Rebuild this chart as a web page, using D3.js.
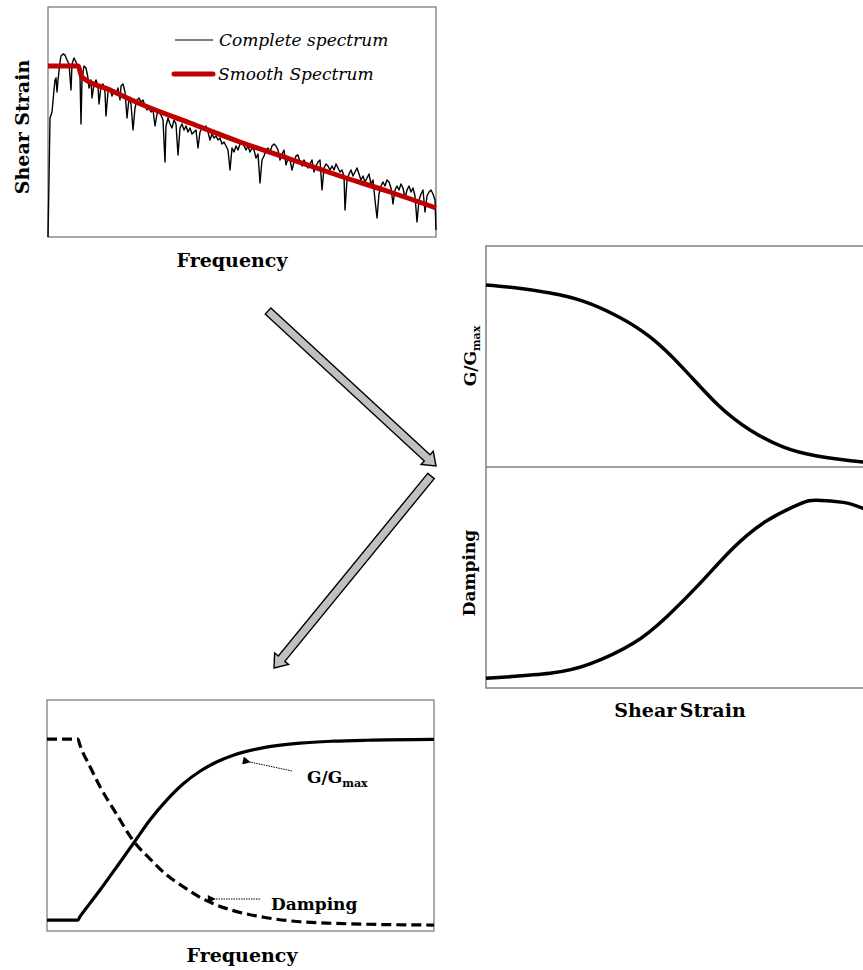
<!DOCTYPE html>
<html><head><meta charset="utf-8">
<script src="https://cdn.jsdelivr.net/npm/d3@7/dist/d3.min.js"></script>
<style>body{margin:0;background:#fff}svg{display:block}text{font-family:"DejaVu Serif",serif}</style>
</head><body><div id="c"></div>
<script>
// ---------------- DATA ----------------
// Panel 1: input spectrum (frequency in arbitrary units 0–194, shear strain arbitrary 0–115)
const spectrumFreq = [0,0.5,1,2,3,3.5,4,4.5,5,6,6.5,7.5,8.5,9.5,10.5,11.5,12,13,14,15,16,16.5,17,18,19,20,20.5,21.5,22,23,24,25,25.5,26.5,27.5,28.5,29,30,31,32,33,34,35,36,36.5,37.5,38.5,39.5,40.5,41.5,42.5,43.5,44.5,45.5,46.5,47.5,48.5,49.5,50.5,51.5,52.5,53.5,54.5,55.5,56.5,57.5,58.5,59,60,61,62,63,64,65,66,67,68,69,70,71,72,73,74,75,76,77,78,79,80,81,82,83,84,85,86,87,88,89,90,91,92,93,94,95,96,97,98,99,100,101,102,103,104,105,106,107,108,109,110,111,112,113,114,115,116,117,118,119,120,121,122,123,124,125,126,127,128,129,130,131,132,133,134,135,136,137,138,139,140,141,142,143,144,145,146,147,148,148.5,149.5,150.5,151.5,152.5,153.5,154.5,155.5,156.5,157.5,158.5,159.5,160.5,161.5,162.5,163.5,164.5,165.5,166.5,167.5,168.5,169.5,170.5,171.5,172.5,173.5,174.5,175.5,176.5,177.5,178.5,179.5,180.5,181.5,182.5,183.5,184.5,185.5,186.5,187.5,188.5,189.5,190.5,191.5,192.5,193.5,194];
const spectrumStrain = [0,28.5,59.5,62.5,73.5,78.5,79.5,72.5,78.5,87.5,90.5,91.5,91,88.5,86.5,73.5,86.5,89.5,87.5,84.5,81,56.5,78.5,85.5,84.5,79.5,74.5,78.5,69.5,76.5,78.5,75.5,66.5,75.5,76.5,72.5,60.5,72.5,74.5,70.5,73.5,71.5,74.5,68.5,75.5,76.5,72.5,59.5,69.5,66.5,53.5,64.5,68.5,69.5,67.5,68.5,65.5,63.5,64.5,62.5,63.5,55.5,61.5,62.5,61,58.5,37.5,55.5,59.5,56.5,54.5,58.5,56.5,41,54.5,56.5,53.5,55.5,52.5,54.5,51.5,52.5,53.5,44.5,52.5,54.5,53.5,55.5,52.5,48.5,51.5,49.5,50.5,48.5,49.5,46.5,47.5,45.5,43.5,33.5,44.5,42.5,45.5,43.5,46.5,47.5,45.5,43.5,45.5,42.5,44.5,43.5,39.5,41.5,27,38.5,40.5,43.5,44.5,42.5,45.5,46.5,45.5,43.5,38.5,41.5,43.5,36,39.5,38.5,33.5,37.5,40.5,41,37.5,35.5,38.5,36.5,34.5,36.5,38.5,32.5,35.5,37.5,38.5,23.5,34.5,36.5,35.5,33.5,35.5,33.5,36.5,34.5,32.5,33.5,30.5,13.5,28.5,31.5,33.5,30.5,32.5,34.5,31.5,28.5,30.5,27.5,29.5,31.5,26.5,28.5,18.5,9.5,21.5,25.5,27.5,25.5,28.5,27.5,24.5,16.5,23.5,25.5,23.5,26.5,24.5,19.5,23.5,25.5,22.5,24.5,20.5,7.5,18.5,21.5,23.5,12.5,20.5,22.5,23.5,21.5,18.5,3.5];
const smoothFreq   = [0,15,17,31,47.5,71,96,121,146,171,194];
const smoothStrain = [85.5,85.5,80,73.5,66,57,47.5,39,30.5,22.5,14.5];
const legendLabels = ["Complete spectrum","Smooth Spectrum"];

// Panels 2 & 3: modulus reduction and damping vs shear strain (normalised strain 0–100)
const gStrain  = [0,7.75,16,24.25,32.75,41,49.25,57.75,66,74.25,82.75,94.25,100];
const gRatio   = [0.988,0.972,0.945,0.901,0.82,0.706,0.537,0.342,0.201,0.109,0.06,0.027,0.02];
const dStrain  = [0,16,26,36.8,45.2,53.5,61.8,70.2,78.5,82.7,89.3,94.25,100];
const dampPct  = [1.31,1.99,3.26,6.06,9.68,14.2,19.0,22.7,25.0,25.5,25.2,24.4,23.2];

// Panel 4: strain-compatible properties vs frequency (normalised 0–1.2)
const outFreq = [0,15.5,16.5,21.6,26.6,35,43.3,51.6,60,68.3,76.7,85,93.4,110,126.8,143.5,160.2,194];
const outG    = [0.057,0.057,0.074,0.145,0.213,0.334,0.455,0.577,0.68,0.765,0.83,0.878,0.913,0.955,0.976,0.986,0.991,0.995];
const outD    = [0.997,0.997,0.966,0.853,0.749,0.605,0.468,0.375,0.291,0.23,0.175,0.135,0.106,0.069,0.048,0.04,0.035,0.031];

// ---------------- DRAW ----------------
const W = 863, H = 970;
const svg = d3.select("#c").append("svg").attr("width", W).attr("height", H);
svg.append("rect").attr("width", W).attr("height", H).attr("fill", "#fff");
const defs = svg.append("defs");
defs.append("marker").attr("id","ah").attr("viewBox","0 0 10 10").attr("refX",1).attr("refY",5)
  .attr("markerWidth",10).attr("markerHeight",8).attr("markerUnits","userSpaceOnUse").attr("orient","auto-start-reverse")
  .append("path").attr("d","M10,0 L0,5 L10,10 Z").attr("fill","#000");

const zip = (a,b) => a.map((v,i)=>[v,b[i]]);

// ---- Panel 1 ----
const x1 = d3.scaleLinear().domain([0,194]).range([48,436]);
const y1 = d3.scaleLinear().domain([0,115]).range([237,7]);
const p1 = svg.append("g");
p1.append("rect").attr("x",x1(0)).attr("y",y1(115)).attr("width",x1(194)-x1(0)).attr("height",y1(0)-y1(115))
  .attr("fill","none").attr("stroke","#6f6f6f").attr("stroke-width",1.2);
p1.append("path").datum(zip(spectrumFreq,spectrumStrain))
  .attr("d", d3.line().x(d=>x1(d[0])).y(d=>y1(d[1])))
  .attr("fill","none").attr("stroke","#000").attr("stroke-width",1.4).attr("stroke-linejoin","round");
p1.append("path").datum(zip(smoothFreq,smoothStrain))
  .attr("d", d3.line().x(d=>x1(d[0])).y(d=>y1(d[1])).curve(d3.curveMonotoneX))
  .attr("fill","none").attr("stroke","#c00000").attr("stroke-width",5);
// legend
const lg = p1.append("g");
lg.append("line").attr("x1",175).attr("x2",213).attr("y1",40).attr("y2",40).attr("stroke","#000").attr("stroke-width",1.2);
lg.append("text").attr("x",219).attr("y",46).attr("font-size",17).attr("font-style","italic").text(legendLabels[0]);
lg.append("line").attr("x1",174).attr("x2",213).attr("y1",74).attr("y2",74).attr("stroke","#c00000").attr("stroke-width",5).attr("stroke-linecap","round");
lg.append("text").attr("x",218).attr("y",80).attr("font-size",17).attr("font-style","italic").text(legendLabels[1]);
p1.append("text").attr("x",232).attr("y",267).attr("text-anchor","middle").attr("font-size",19).attr("font-weight","bold").text("Frequency");
p1.append("text").attr("transform","translate(29,127) rotate(-90)").attr("text-anchor","middle").attr("font-size",19).attr("font-weight","bold").text("Shear Strain");

// ---- Panels 2/3 ----
const x2 = d3.scaleLinear().domain([0,100]).range([486,886]);
const yG = d3.scaleLinear().domain([0,1.2]).range([467,246]);
const yD = d3.scaleLinear().domain([0,30]).range([688,467]);
const p2 = svg.append("g");
p2.append("rect").attr("x",x2(0)).attr("y",yG(1.2)).attr("width",x2(100)-x2(0)).attr("height",yD(0)-yG(1.2))
  .attr("fill","none").attr("stroke","#808080").attr("stroke-width",1.5);
p2.append("line").attr("x1",x2(0)).attr("x2",x2(100)).attr("y1",yG(0)).attr("y2",yG(0)).attr("stroke","#808080").attr("stroke-width",1.5);
p2.append("path").datum(zip(gStrain,gRatio))
  .attr("d", d3.line().x(d=>x2(d[0])).y(d=>yG(d[1])).curve(d3.curveNatural))
  .attr("fill","none").attr("stroke","#000").attr("stroke-width",3.5);
p2.append("path").datum(zip(dStrain,dampPct))
  .attr("d", d3.line().x(d=>x2(d[0])).y(d=>yD(d[1])).curve(d3.curveNatural))
  .attr("fill","none").attr("stroke","#000").attr("stroke-width",3.5);
const gl = p2.append("text").attr("transform","translate(476,356) rotate(-90)").attr("text-anchor","middle").attr("font-size",17).attr("font-weight","bold");
gl.append("tspan").text("G/G");
gl.append("tspan").attr("font-size",11).attr("dy",4).text("max");
p2.append("text").attr("transform","translate(475,573) rotate(-90)").attr("text-anchor","middle").attr("font-size",17).attr("font-weight","bold").text("Damping");
p2.append("text").attr("x",680).attr("y",717).attr("text-anchor","middle").attr("font-size",19).attr("font-weight","bold").attr("word-spacing",-3).text("Shear Strain");

// ---- Panel 4 ----
const x4 = d3.scaleLinear().domain([0,194]).range([47,434]);
const y4 = d3.scaleLinear().domain([0,1.2]).range([931,700]);
const p4 = svg.append("g");
p4.append("rect").attr("x",x4(0)).attr("y",y4(1.2)).attr("width",x4(194)-x4(0)).attr("height",y4(0)-y4(1.2))
  .attr("fill","none").attr("stroke","#808080").attr("stroke-width",1.3);
p4.append("path").datum(zip(outFreq,outG))
  .attr("d", d3.line().x(d=>x4(d[0])).y(d=>y4(d[1])).curve(d3.curveMonotoneX))
  .attr("fill","none").attr("stroke","#000").attr("stroke-width",3.2);
p4.append("path").datum(zip(outFreq,outD))
  .attr("d", d3.line().x(d=>x4(d[0])).y(d=>y4(d[1])).curve(d3.curveMonotoneX))
  .attr("fill","none").attr("stroke","#000").attr("stroke-width",3.2).attr("stroke-dasharray","10,5");
// annotations
p4.append("line").attr("x1",292).attr("y1",771).attr("x2",250).attr("y2",762)
  .attr("stroke","#000").attr("stroke-width",1).attr("stroke-dasharray","1.5,1").attr("marker-end","url(#ah)");
const ga = p4.append("text").attr("x",307).attr("y",783).attr("font-size",17).attr("font-weight","bold");
ga.append("tspan").text("G/G");
ga.append("tspan").attr("font-size",11).attr("dy",4).text("max");
p4.append("line").attr("x1",260).attr("y1",899).attr("x2",215).attr("y2",899)
  .attr("stroke","#000").attr("stroke-width",1).attr("stroke-dasharray","1.5,1").attr("marker-end","url(#ah)");
p4.append("text").attr("x",271).attr("y",910).attr("font-size",17).attr("font-weight","bold").text("Damping");
p4.append("text").attr("x",242).attr("y",962).attr("text-anchor","middle").attr("font-size",19).attr("font-weight","bold").text("Frequency");

// ---- Block arrows ----
function blockArrow(x0,y0,x1_,y1_){
  const dx=x1_-x0, dy=y1_-y0, L=Math.hypot(dx,dy), ux=dx/L, uy=dy/L, nx=-uy, ny=ux;
  const sw=4.2, hw=9, hl=12;
  const P=(a,b)=>[x0+ux*a+nx*b, y0+uy*a+ny*b];
  const pts=[P(0,sw),P(L-hl,sw),P(L-hl,hw),P(L,0),P(L-hl,-hw),P(L-hl,-sw),P(0,-sw)];
  svg.append("polygon").attr("points",pts.map(p=>p.join(",")).join(" "))
    .attr("fill","#c0c0c0").attr("stroke","#000").attr("stroke-width",1.4).attr("stroke-linejoin","miter");
}
blockArrow(268,311,436,466);
blockArrow(431,476,274,668);
</script></body></html>
